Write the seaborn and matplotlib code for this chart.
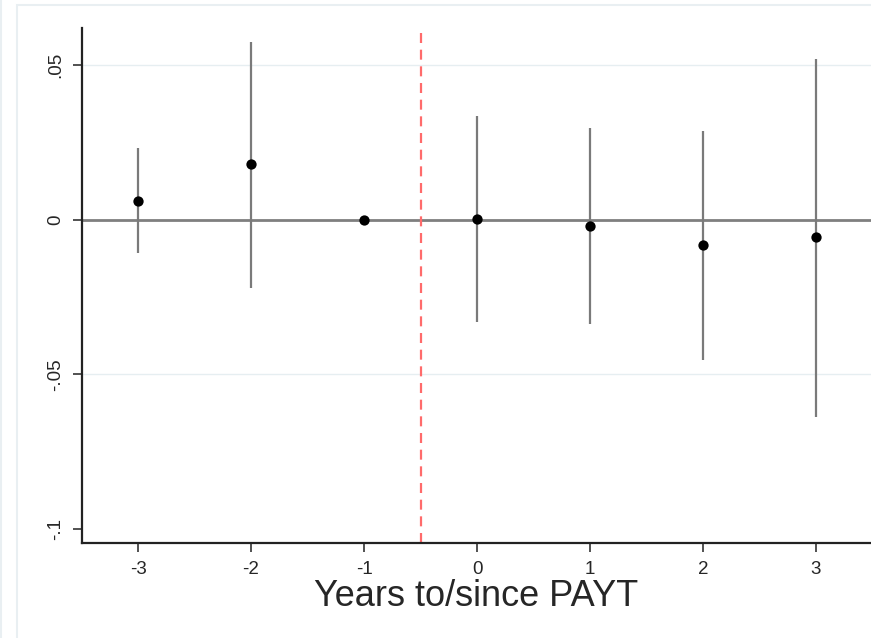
import matplotlib
matplotlib.use("Agg")
import matplotlib.pyplot as plt
import seaborn as sns
import pandas as pd
from matplotlib.patches import Rectangle

# ── 1. DATA ──────────────────────────────────────────────────
years = [-3, -2, -1, 0, 1, 2, 3]
coef = [0.0062, 0.0179, 0.0, 0.0003, -0.0021, -0.0083, -0.0057]
ci_low = [-0.0106, -0.0219, 0.0, -0.0332, -0.0337, -0.0453, -0.0637]
ci_high = [0.0231, 0.0575, 0.0, 0.0336, 0.0298, 0.0286, 0.0519]
yticks = [-0.1, -0.05, 0.0, 0.05]
ytick_labels = ["-.1", "-.05", "0", ".05"]

df = pd.DataFrame({"year": years, "coef": coef, "lo": ci_low, "hi": ci_high})
ci = df[df["lo"] != df["hi"]]

# ── 2. PLOT ──────────────────────────────────────────────────
sns.set_style("white")
plt.rcParams["font.family"] = ["Liberation Sans", "DejaVu Sans"]

fig = plt.figure(figsize=(8.71, 6.38), dpi=100)
W, H = 871, 638

# light outer frames (Stata graph region edges)
fig.patches.append(Rectangle((1 / W, -0.1), 2, 2, transform=fig.transFigure,
                             fill=False, ec="#e9eff2", lw=1.5))
fig.patches.append(Rectangle((17 / W, -0.1), 2, 1 - 5 / H + 0.1, transform=fig.transFigure,
                             fill=False, ec="#e9eff2", lw=1.5))

ax = fig.add_axes([82 / W, 1 - 543 / H, (871 - 82) / W, (543 - 28) / H])
ax.set_facecolor("none")

# gridlines and zero line
for y in [0.05, -0.05]:
    ax.axhline(y, color="#e6eef1", lw=1, zorder=0)
ax.axhline(0, color="#7f7f7f", lw=2, zorder=1)

# confidence intervals
ax.vlines(ci["year"], ci["lo"], ci["hi"], color="#7a7a7a", lw=1.6, zorder=2)

# point estimates
sns.scatterplot(data=df, x="year", y="coef", color="black", s=55,
                edgecolor="black", linewidth=0, zorder=3, ax=ax)

# event line
ax.axvline(-0.5, color="#ff6b6b", lw=1.6, ls=(0, (4.5, 3)), zorder=2)

ax.set_xlim(-3.496, 3.487)
ax.set_ylim(-0.1045, 0.062)
ax.set_xticks(years)
ax.set_xticklabels([str(v) for v in years], fontsize=13.5)
ax.set_yticks(yticks)
ax.set_yticklabels(ytick_labels, fontsize=13.5, rotation=90, va="center")
ax.tick_params(axis="both", direction="out", length=6.5, width=1.2, color="#333333",
               bottom=True, left=True)
ax.tick_params(axis="x", pad=6.5)
ax.tick_params(axis="y", pad=6.5)

for side in ["top", "right"]:
    ax.spines[side].set_visible(False)
for side in ["left", "bottom"]:
    ax.spines[side].set_color("#222222")
    ax.spines[side].set_linewidth(1.6)

ax.set_xlabel("Years to/since PAYT", fontsize=26, labelpad=1)
ax.set_ylabel("")

# ── 3. SAVE ──────────────────────────────────────────────────
plt.savefig("out.png", dpi=100)
